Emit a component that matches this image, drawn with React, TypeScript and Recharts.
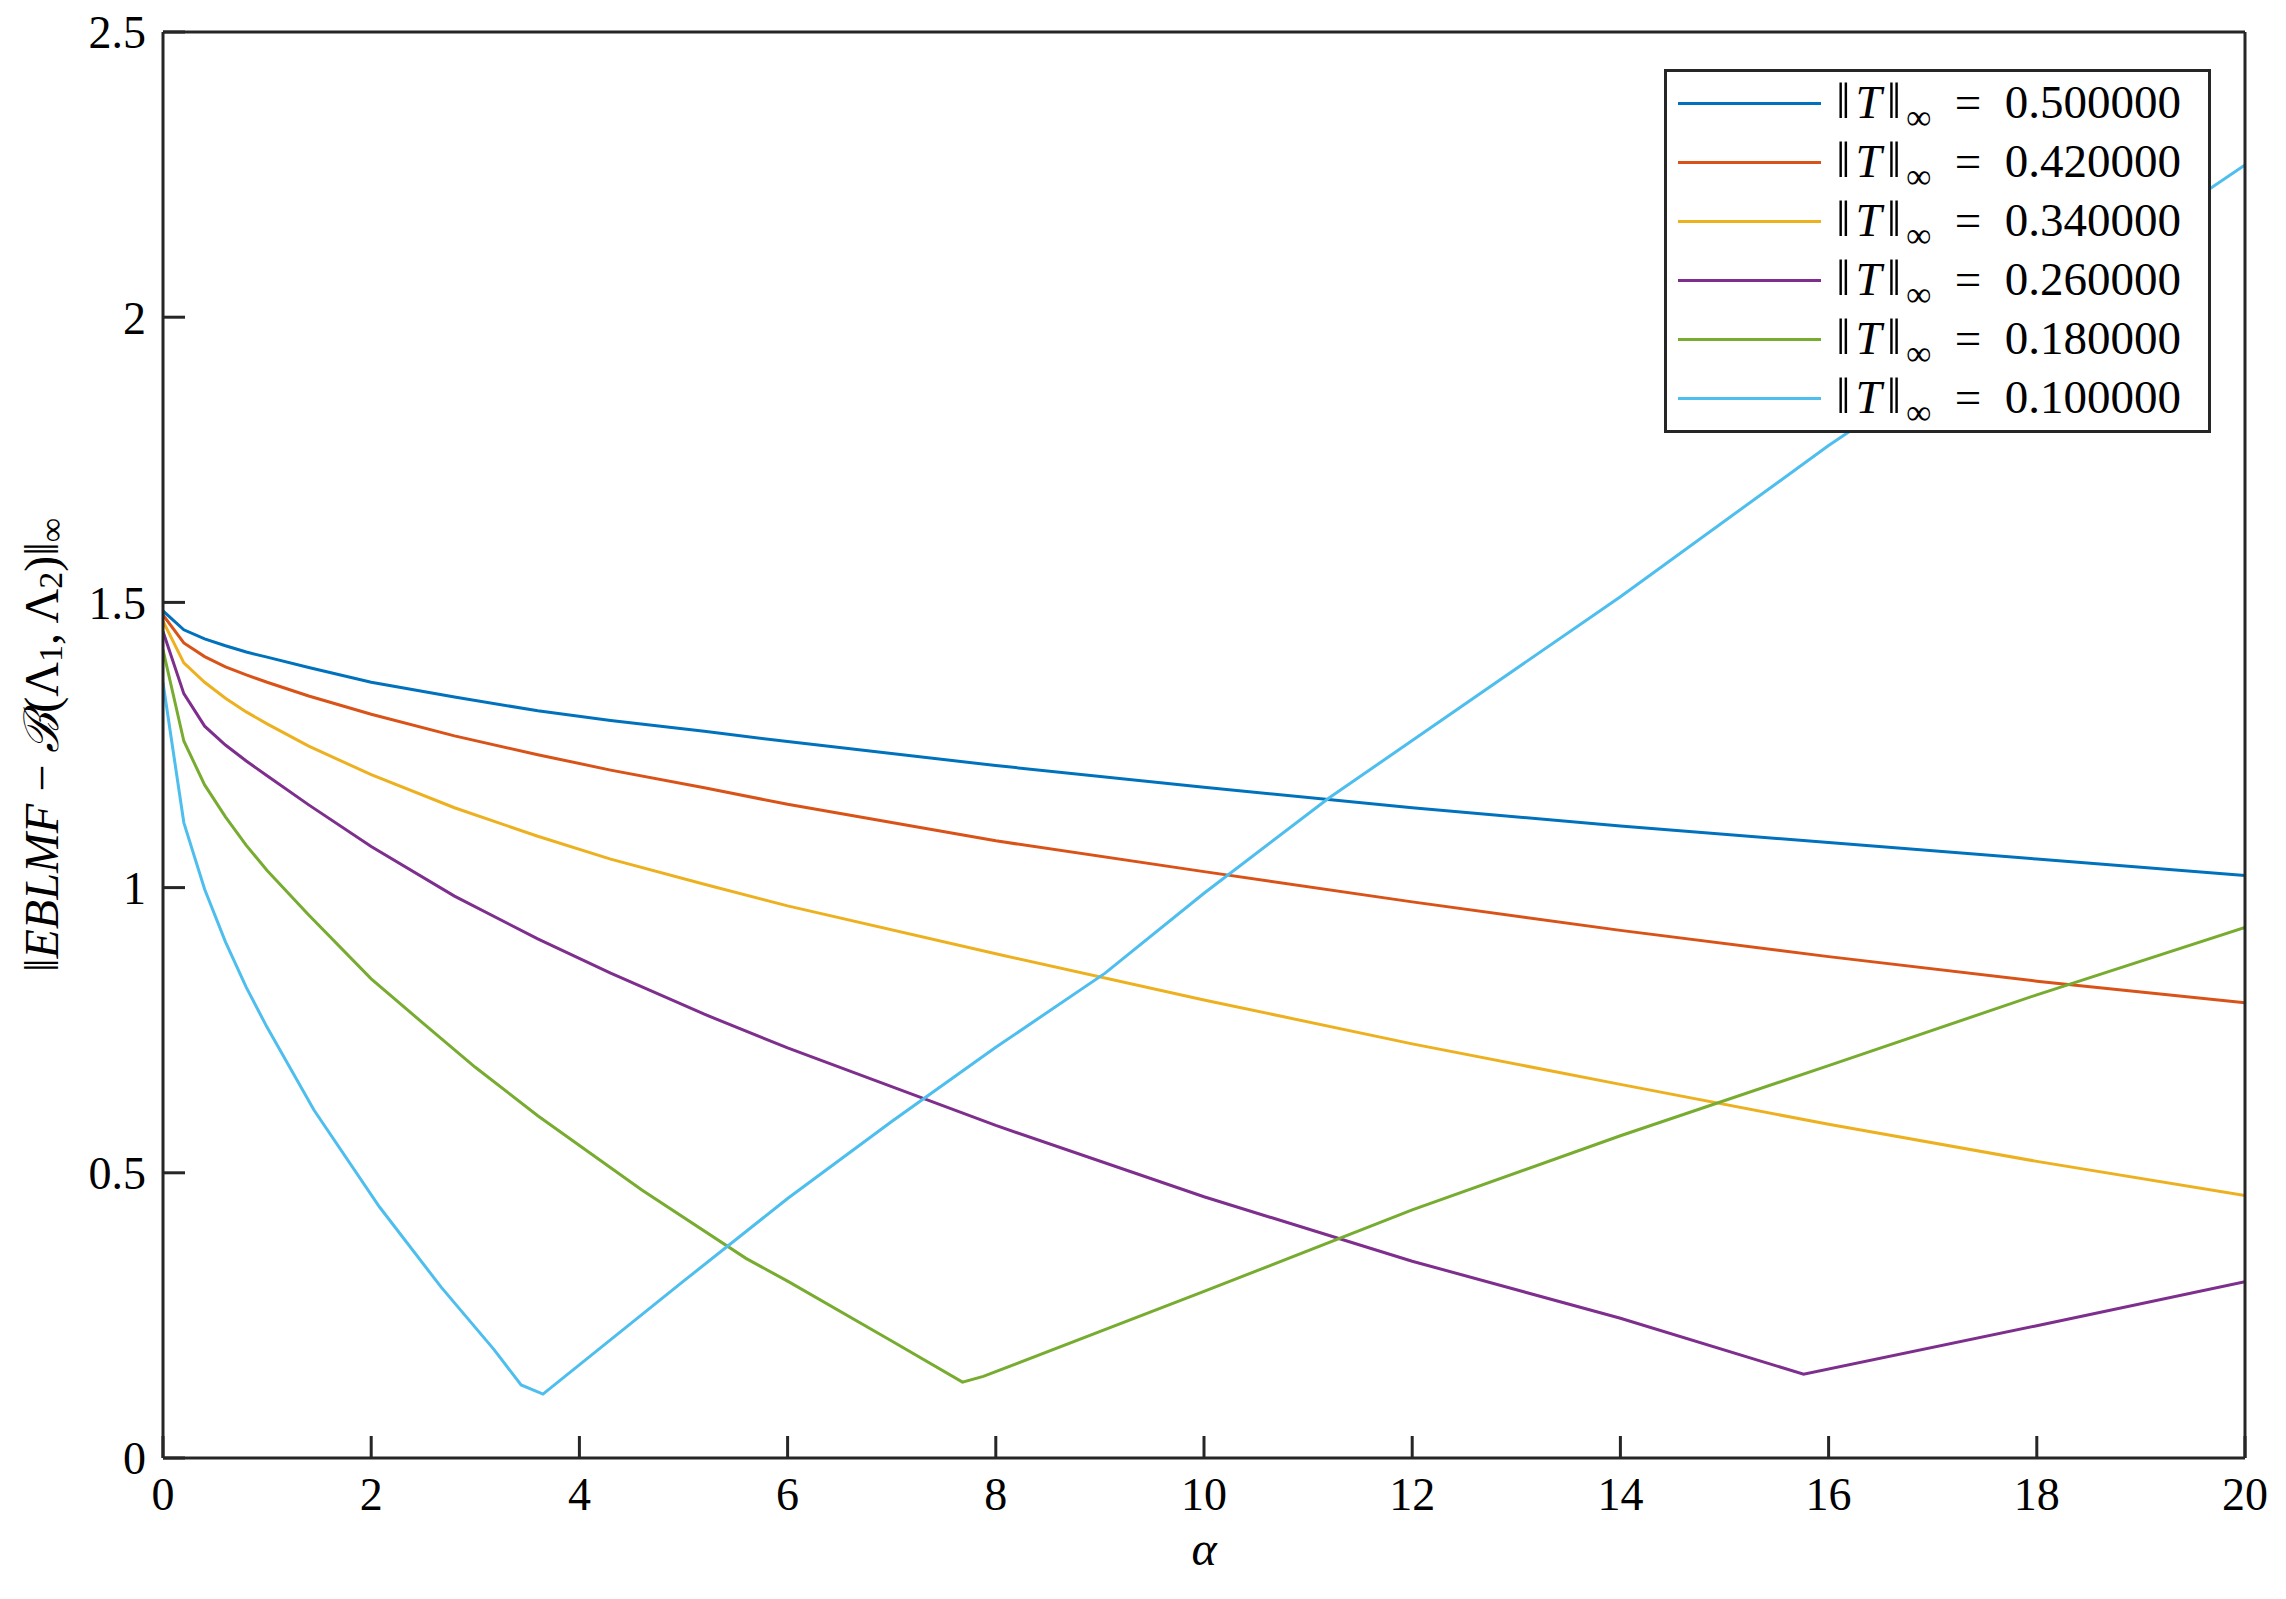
import React from "react";
import {
  LineChart,
  Line,
  XAxis,
  YAxis,
  Legend,
  Label,
} from "recharts";

// alpha values and ||EBLMF - B||_inf, one pair of arrays per ||T||_inf
const T500_A = [0, 0.2, 0.4, 0.6, 0.8, 1, 1.4, 2, 2.8, 3.6, 4.3, 5.2, 6, 8, 10, 12, 14, 16, 18, 20];
const T500_V = [1.485, 1.452, 1.436, 1.424, 1.413, 1.404, 1.386, 1.36, 1.334, 1.31, 1.293, 1.274, 1.256, 1.214, 1.176, 1.14, 1.108, 1.079, 1.05, 1.021];

const T420_A = [0, 0.2, 0.4, 0.6, 0.8, 1, 1.4, 2, 2.8, 3.6, 4.3, 5.2, 6, 8, 10, 12, 14, 16, 18, 20];
const T420_V = [1.478, 1.429, 1.405, 1.387, 1.373, 1.36, 1.336, 1.304, 1.266, 1.233, 1.206, 1.175, 1.146, 1.082, 1.028, 0.975, 0.925, 0.879, 0.836, 0.798];

const T340_A = [0, 0.2, 0.4, 0.6, 0.8, 1, 1.4, 2, 2.8, 3.6, 4.3, 5.2, 6, 8, 10, 12, 14, 16, 18, 20];
const T340_V = [1.467, 1.394, 1.36, 1.332, 1.308, 1.287, 1.248, 1.198, 1.14, 1.09, 1.05, 1.006, 0.968, 0.884, 0.803, 0.726, 0.655, 0.585, 0.52, 0.46];

const T260_A = [0, 0.2, 0.4, 0.6, 0.8, 1, 1.4, 2, 2.8, 3.6, 4.3, 5.2, 6, 8, 10, 12, 14, 15.76, 18, 20];
const T260_V = [1.449, 1.34, 1.283, 1.25, 1.222, 1.196, 1.145, 1.072, 0.985, 0.91, 0.85, 0.778, 0.719, 0.583, 0.458, 0.345, 0.245, 0.147, 0.232, 0.309];

const T180_A = [0, 0.2, 0.4, 0.6, 0.8, 1, 1.4, 2, 2.5, 3, 3.6, 4.6, 5.6, 6, 7, 7.68, 7.88, 10, 12, 14, 16, 18, 20];
const T180_V = [1.417, 1.257, 1.18, 1.124, 1.074, 1.03, 0.952, 0.84, 0.762, 0.685, 0.6, 0.47, 0.35, 0.31, 0.205, 0.133, 0.143, 0.292, 0.435, 0.565, 0.688, 0.812, 0.93];

const T100_A = [0, 0.2, 0.4, 0.6, 0.8, 1, 1.45, 2.08, 2.67, 3.18, 3.44, 3.65, 5, 6, 7, 8, 9.05, 10, 11.2, 14, 16, 18, 20];
const T100_V = [1.359, 1.114, 0.997, 0.905, 0.825, 0.755, 0.61, 0.44, 0.3, 0.19, 0.128, 0.112, 0.31, 0.455, 0.59, 0.72, 0.85, 0.99, 1.157, 1.51, 1.775, 2.02, 2.267];

const X_TICKS = [0, 2, 4, 6, 8, 10, 12, 14, 16, 18, 20];
const Y_TICKS = [0, 0.5, 1, 1.5, 2, 2.5];

const zip = (a: number[], v: number[]) => a.map((x, i) => ({ a: x, v: v[i] }));

const SERIES = [
  { name: "0.500000", color: "#0072BD", data: zip(T500_A, T500_V) },
  { name: "0.420000", color: "#D95319", data: zip(T420_A, T420_V) },
  { name: "0.340000", color: "#EDB120", data: zip(T340_A, T340_V) },
  { name: "0.260000", color: "#7E2F8E", data: zip(T260_A, T260_V) },
  { name: "0.180000", color: "#77AC30", data: zip(T180_A, T180_V) },
  { name: "0.100000", color: "#4DBEEE", data: zip(T100_A, T100_V) },
];

const FONT = "'Liberation Serif', 'DejaVu Serif', serif";
const AXIS = "#262626";

function LegendBox({ payload }: any) {
  // keep plotting order (recharts sorts the payload by name)
  const order = SERIES.map((s) => s.name);
  const items = [...(payload || [])].sort(
    (a: any, b: any) => order.indexOf(a.value) - order.indexOf(b.value)
  );
  const bar = { display: "inline-block", margin: "0 5px", fontSize: "1.1em" };
  return (
    <div
      style={{
        border: `3px solid ${AXIS}`,
        background: "#fff",
        padding: "2px 0",
        fontFamily: FONT,
        fontSize: 47,
        color: "#000",
      }}
    >
      {items.map((p: any, i: number) => (
        <div
          key={i}
          style={{ display: "flex", alignItems: "center", height: 59, whiteSpace: "nowrap" }}
        >
          <div
            style={{
              marginLeft: 11,
              width: 143,
              height: 3,
              background: p.color,
              flexShrink: 0,
            }}
          />
          <span style={{ marginLeft: 10, lineHeight: "59px" }}>
            <span style={bar}>‖</span>
            <i>T</i>
            <span style={bar}>‖</span>
            <span style={{ fontSize: "0.75em", position: "relative", top: "0.3em" }}>∞</span>
            {"\u2002=\u2002"}
            {p.value}
          </span>
        </div>
      ))}
    </div>
  );
}

function YTitle({ viewBox }: any) {
  const cx = viewBox.x + 41;
  const cy = viewBox.y + viewBox.height / 2;
  return (
    <text
      x={cx}
      y={cy}
      transform={`rotate(-90, ${cx}, ${cy})`}
      textAnchor="middle"
      dominantBaseline="central"
      fontFamily={FONT}
      fontSize={48}
      fill="#000"
    >
      <tspan>‖</tspan>
      <tspan fontStyle="italic">EBLMF</tspan>
      <tspan> − </tspan>
      <tspan fontStyle="italic">ℬ</tspan>
      <tspan>(Λ</tspan>
      <tspan fontSize={34} dy={9}>1</tspan>
      <tspan dy={-9}>, Λ</tspan>
      <tspan fontSize={34} dy={9}>2</tspan>
      <tspan dy={-9}>)‖</tspan>
      <tspan fontSize={34} dy={10}>∞</tspan>
    </text>
  );
}

function XTitle({ viewBox }: any) {
  return (
    <text
      x={viewBox.x + viewBox.width / 2}
      y={viewBox.y + 90}
      textAnchor="middle"
      dominantBaseline="central"
      fontFamily={FONT}
      fontStyle="italic"
      fontSize={48}
      fill="#000"
    >
      α
    </text>
  );
}

const noTick = () => <g />;

export default function App() {
  const tickStyle = { fontFamily: FONT, fontSize: 46, fill: "#000" };
  return (
    <div style={{ position: "absolute", left: 0, top: 0, width: 2286, height: 1599, background: "#fff" }}>
      <LineChart width={2286} height={1599} margin={{ top: 0, right: 0, bottom: 0, left: 0 }}>
        <XAxis
          xAxisId="b"
          dataKey="a"
          type="number"
          domain={[0, 20]}
          ticks={X_TICKS}
          allowDataOverflow
          height={141}
          stroke={AXIS}
          strokeWidth={3}
          tickSize={-22}
          tickMargin={41}
          tick={tickStyle}
        >
          <Label content={<XTitle />} />
        </XAxis>
        <XAxis
          xAxisId="t"
          orientation="top"
          dataKey="a"
          type="number"
          domain={[0, 20]}
          ticks={X_TICKS}
          height={32}
          stroke={AXIS}
          strokeWidth={3}
          tickSize={-22}
          tick={noTick}
        />
        <YAxis
          yAxisId="l"
          type="number"
          domain={[0, 2.5]}
          ticks={Y_TICKS}
          allowDataOverflow
          width={163}
          stroke={AXIS}
          strokeWidth={3}
          tickSize={-22}
          tickMargin={39}
          tick={tickStyle}
        >
          <Label content={<YTitle />} />
        </YAxis>
        <YAxis
          yAxisId="r"
          orientation="right"
          type="number"
          domain={[0, 2.5]}
          ticks={Y_TICKS}
          width={41}
          stroke={AXIS}
          strokeWidth={3}
          tickSize={-22}
          tick={noTick}
        />
        <Legend
          layout="vertical"
          align="center"
          verticalAlign="middle"
          content={<LegendBox />}
          wrapperStyle={{ left: 1664, top: 69, width: 547 }}
        />
        {SERIES.map((s) => (
          <Line
            key={s.name}
            xAxisId="b"
            yAxisId="l"
            data={s.data}
            dataKey="v"
            name={s.name}
            type="linear"
            stroke={s.color}
            strokeWidth={3}
            dot={false}
            activeDot={false}
            isAnimationActive={false}
          />
        ))}
      </LineChart>
    </div>
  );
}
